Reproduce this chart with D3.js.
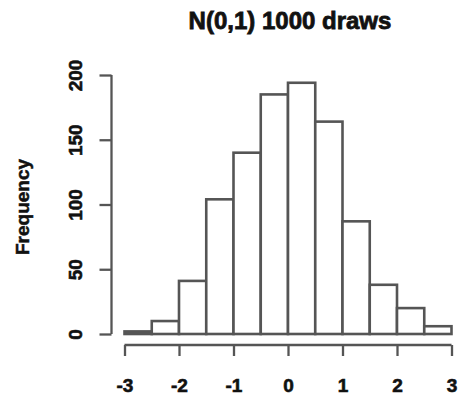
<!DOCTYPE html>
<html><head><meta charset="utf-8">
<script src="https://cdn.jsdelivr.net/npm/d3@7"></script>
<style>body{margin:0;background:#fff;} svg{display:block;}</style>
</head><body>
<svg id="c" width="463" height="395"></svg>
<script>
const binStarts = [-3,-2.5,-2,-1.5,-1,-0.5,0,0.5,1,1.5,2,2.5];
const binWidth = 0.5;
const counts = [2,10,41,104,140,185,194,164,87,38,20,6];
const xTicks = [-3,-2,-1,0,1,2,3];
const yTicks = [0,50,100,150,200];
const title = "N(0,1) 1000 draws";
const yLabel = "Frequency";

const svg = d3.select("#c");
const x = d3.scaleLinear().domain([-3,3]).range([124.5,451.5]);
const y = d3.scaleLinear().domain([0,200]).range([334,75]);
const col = "#555";
const font = "'Liberation Sans', Arial, sans-serif";

svg.selectAll("rect.bar").data(binStarts).join("rect")
  .attr("class","bar")
  .attr("x", d=>x(d)).attr("width", d=>x(d+binWidth)-x(d))
  .attr("y", (d,i)=>y(counts[i])).attr("height",(d,i)=>y(0)-y(counts[i]))
  .attr("fill","#fff").attr("stroke",col).attr("stroke-width",2.6);

const xa = svg.append("g").attr("transform","translate(0,345)")
  .call(d3.axisBottom(x).tickValues(xTicks).tickSize(11).tickFormat(d=>d<0?"-"+Math.abs(d):d));
const ya = svg.append("g").attr("transform","translate(111.5,0)")
  .call(d3.axisLeft(y).tickValues(yTicks).tickSize(12));
[xa,ya].forEach(a=>{
  a.select(".domain").attr("stroke",col).attr("stroke-width",2.3);
  a.selectAll(".tick line").attr("stroke",col).attr("stroke-width",2.3);
  a.selectAll("text").attr("fill","#111").attr("font-family",font).attr("font-weight","bold")
    .attr("font-size",19).attr("stroke","#111").attr("stroke-width",0.6);
});
xa.select(".domain").attr("d",`M${x(-3)},0H${x(3)}`);
ya.select(".domain").attr("d",`M0,${y(0)}V${y(200)}`);
xa.selectAll(".tick text").attr("dy",null).attr("y",47);
ya.selectAll(".tick text").attr("x",null).attr("dy","0.35em")
  .attr("text-anchor","middle")
  .attr("transform","translate(-36.5,0) rotate(-90)");

svg.append("text").attr("x",290).attr("y",29).attr("text-anchor","middle")
  .attr("font-family",font).attr("font-weight","bold").attr("font-size",24)
  .attr("fill","#111").attr("stroke","#111").attr("stroke-width",0.8).text(title);
svg.append("text").attr("transform","translate(29,207) rotate(-90)").attr("text-anchor","middle")
  .attr("font-family",font).attr("font-weight","bold").attr("font-size",19)
  .attr("fill","#111").attr("stroke","#111").attr("stroke-width",0.5).text(yLabel);
</script>
</body></html>
